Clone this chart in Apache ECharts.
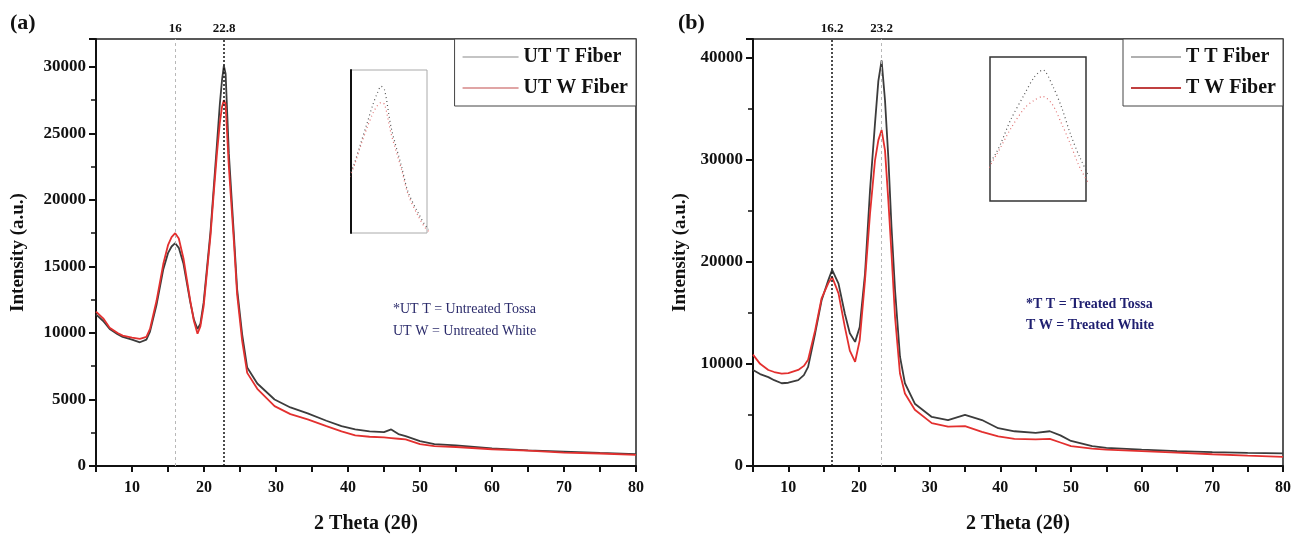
<!DOCTYPE html>
<html>
<head>
<meta charset="utf-8">
<script src="https://cdn.jsdelivr.net/npm/echarts@6/dist/echarts.min.js"></script>
<style>
html,body{margin:0;padding:0;background:#fff;}
#c{width:1296px;height:541px;}
</style>
</head>
<body>
<div id="c"></div>
<script>
// ---------- DATA ----------
// Panel (a): untreated fibers
const thetaA = [5, 6, 6.9, 8, 8.7, 10, 11.1, 12, 12.5, 13.4, 14.35, 15, 15.5, 16, 16.5, 17.15, 18.1, 18.6, 19.1, 19.5, 19.95, 20.4, 20.9, 21.35, 21.8, 22.2, 22.5, 22.76, 23, 23.45, 24.16, 24.6, 25.3, 26, 27.4, 29.8, 32, 34.4, 37, 39.1, 41, 43, 45, 46, 47, 48, 50, 52, 55, 60, 65, 70, 75, 80];
const utTFiber = [11400, 10900, 10300, 9900, 9700, 9500, 9300, 9500, 10100, 12100, 14800, 16000, 16500, 16750, 16400, 15200, 12300, 11000, 10300, 10700, 12300, 14800, 17600, 20900, 24200, 27200, 29000, 30100, 29500, 23500, 17300, 13300, 9900, 7400, 6200, 5000, 4400, 3950, 3400, 3000, 2750, 2600, 2550, 2750, 2400, 2250, 1870, 1650, 1550, 1330, 1180, 1080, 980, 890];
const utWFiber = [11600, 11100, 10400, 10000, 9800, 9650, 9550, 9700, 10300, 12400, 15200, 16600, 17200, 17500, 17100, 15600, 12400, 10900, 9950, 10500, 12000, 14500, 17300, 20500, 23500, 25800, 27000, 27500, 27200, 22500, 16800, 12900, 9400, 7000, 5800, 4500, 3900, 3500, 3000, 2600, 2300, 2200, 2150, 2100, 2050, 2000, 1650, 1500, 1430, 1260, 1150, 1010, 940, 840];
const peakLinesA = [16, 22.8];
const peakLabelsA = ['16', '22.8'];
const namesA = ['UT T Fiber', 'UT W Fiber'];
const notesA = ['*UT T = Untreated Tossa', 'UT W = Untreated White'];

// Panel (b): treated fibers
const thetaB = [5, 6, 7.17, 8, 9.06, 10, 11.4, 12.2, 12.8, 13.8, 14.7, 15.66, 16.2, 17.1, 18, 18.7, 19.45, 20.1, 20.85, 21.56, 22.26, 22.74, 23.2, 23.68, 24.15, 24.6, 25.1, 25.8, 26.5, 27.9, 30.3, 32.6, 35, 37.4, 39.7, 42, 45, 47, 48.5, 50, 53, 55, 60, 65, 70, 75, 80];
const tTFiber = [9400, 9000, 8700, 8400, 8100, 8150, 8400, 8900, 9700, 13000, 16200, 18200, 19200, 17850, 14900, 13000, 12150, 13600, 18800, 27000, 33500, 37700, 39700, 35800, 30200, 23400, 17200, 10700, 8100, 6100, 4800, 4500, 5000, 4500, 3700, 3400, 3250, 3400, 3000, 2450, 1950, 1780, 1600, 1450, 1350, 1280, 1230];
const tWFiber = [10900, 10000, 9400, 9200, 9050, 9100, 9400, 9800, 10400, 13300, 16400, 17900, 18500, 16900, 13600, 11300, 10200, 12300, 18200, 24700, 29900, 31900, 32900, 30900, 26000, 20800, 14600, 9050, 7100, 5500, 4200, 3850, 3900, 3350, 2900, 2650, 2600, 2650, 2300, 1950, 1700, 1600, 1450, 1300, 1150, 1020, 900];
const peakLinesB = [16.2, 23.2];
const peakLabelsB = ['16.2', '23.2'];
const namesB = ['T T Fiber', 'T W Fiber'];
const notesB = ['*T T = Treated Tossa', 'T W = Treated White'];

const xTitle = '2 Theta (2θ)';
const yTitle = 'Intensity (a.u.)';

// ---------- CHART ----------
const FONT = "'Liberation Serif','Times New Roman',serif";
const BLACK = '#3c3c3c';
const RED = '#e3302f';

const pairs = (xs, ys) => xs.map((x, i) => [x, ys[i]]);

function mainX(gridIndex) {
  return {
    type: 'value', gridIndex, min: 5, max: 80, interval: 5,
    name: xTitle, nameLocation: 'middle', nameGap: 48,
    nameTextStyle: {fontFamily: FONT, fontWeight: 'bold', fontSize: 20, color: '#111'},
    axisLine: {show: true, onZero: false, lineStyle: {color: '#111', width: 2}},
    axisTick: {show: true, length: 6, lineStyle: {color: '#111', width: 2}},
    axisLabel: {fontFamily: FONT, fontWeight: 'bold', fontSize: 16, color: '#111', margin: 14,
      formatter: v => (v % 10 === 0 ? String(v) : '')},
    splitLine: {show: false}
  };
}
function mainY(gridIndex, max, interval, gap) {
  return {
    type: 'value', gridIndex, min: 0, max, interval,
    name: yTitle, nameLocation: 'middle', nameGap: gap, nameRotate: 90,
    nameTextStyle: {fontFamily: FONT, fontWeight: 'bold', fontSize: 19, color: '#111'},
    axisLine: {show: true, lineStyle: {color: '#111', width: 2}},
    axisTick: {show: true, length: 7, lineStyle: {color: '#111', width: 2}},
    minorTick: {show: true, splitNumber: 2, length: 5, lineStyle: {color: '#111', width: 1.5}},
    axisLabel: {fontFamily: FONT, fontWeight: 'bold', fontSize: 17, color: '#111', margin: 10,
      showMaxLabel: false, formatter: v => String(v)},
    splitLine: {show: false}
  };
}
function insetAxes(gridIndex, xmin, xmax, ymin, ymax, leftLine) {
  return [
    {type: 'value', gridIndex, min: xmin, max: xmax, show: false},
    {type: 'value', gridIndex, min: ymin, max: ymax, show: !!leftLine,
      axisLine: {show: !!leftLine, lineStyle: {color: '#111', width: 2}},
      axisTick: {show: false}, axisLabel: {show: false}, splitLine: {show: false}}
  ];
}
function vlines(values, labels, styles) {
  return {
    silent: true, symbol: 'none', animation: false,
    data: values.map((v, i) => ({
      xAxis: v,
      lineStyle: styles[i],
      label: {show: true, position: 'end', formatter: labels[i], distance: 4,
        fontFamily: FONT, fontWeight: 'bold', fontSize: 13, color: '#111'}
    }))
  };
}
const lightDash = {color: '#b8b8b8', type: [3, 3], width: 1};
const darkDot = {color: '#111', type: [2, 2], width: 1.5};

const insetA = insetAxes(2, 20.7, 25.9, 6700, 32700, true);
const insetB = insetAxes(3, 20.5, 25.4, 6200, 43000, false);

const legendText = {fontFamily: FONT, fontWeight: 'bold', fontSize: 20, color: '#111'};

const option = {
  animation: false,
  backgroundColor: '#fff',
  grid: [
    {left: 96, top: 39, width: 540, height: 427, show: true, borderColor: '#222', borderWidth: 1.5},
    {left: 753, top: 39, width: 530, height: 427, show: true, borderColor: '#222', borderWidth: 1.5},
    {left: 351, top: 70, width: 76, height: 163, show: true, borderColor: '#aaa', borderWidth: 1},
    {left: 990, top: 57, width: 96, height: 144, show: true, borderColor: '#333', borderWidth: 1.5}
  ],
  xAxis: [mainX(0), mainX(1), insetA[0], insetB[0]],
  yAxis: [mainY(0, 32100, 5000, 68), mainY(1, 41800, 10000, 63), insetA[1], insetB[1]],
  legend: [
    {right: 660, top: 39, orient: 'vertical', icon: 'rect', itemWidth: 56, itemHeight: 2, itemGap: 11,
      padding: [8, 8, 8, 8], borderColor: '#444', borderWidth: 1, backgroundColor: '#fff',
      textStyle: legendText, selectedMode: false,
      data: [{name: namesA[0], itemStyle: {color: '#c4c4c4'}},
             {name: namesA[1], itemStyle: {color: '#e0a5a5'}}]},
    {right: 13, top: 39, orient: 'vertical', icon: 'rect', itemWidth: 50, itemHeight: 2, itemGap: 11,
      padding: [8, 7, 8, 8], borderColor: '#444', borderWidth: 1, backgroundColor: '#fff',
      textStyle: legendText, selectedMode: false,
      data: [{name: namesB[0], itemStyle: {color: '#b0b0b0'}},
             {name: namesB[1], itemStyle: {color: '#c04040'}}]}
  ],
  series: [
    {name: namesA[0], type: 'line', xAxisIndex: 0, yAxisIndex: 0, symbol: 'none',
      data: pairs(thetaA, utTFiber), lineStyle: {color: BLACK, width: 1.8}, itemStyle: {color: BLACK},
      markLine: vlines(peakLinesA, peakLabelsA, [lightDash, darkDot])},
    {name: namesA[1], type: 'line', xAxisIndex: 0, yAxisIndex: 0, symbol: 'none',
      data: pairs(thetaA, utWFiber), lineStyle: {color: RED, width: 1.8}, itemStyle: {color: RED}},
    {name: namesB[0], type: 'line', xAxisIndex: 1, yAxisIndex: 1, symbol: 'none',
      data: pairs(thetaB, tTFiber), lineStyle: {color: BLACK, width: 1.8}, itemStyle: {color: BLACK},
      markLine: vlines(peakLinesB, peakLabelsB, [darkDot, lightDash])},
    {name: namesB[1], type: 'line', xAxisIndex: 1, yAxisIndex: 1, symbol: 'none',
      data: pairs(thetaB, tWFiber), lineStyle: {color: RED, width: 1.8}, itemStyle: {color: RED}},
    // insets (zoom on the main peak)
    {name: 'insetA-T', type: 'line', xAxisIndex: 2, yAxisIndex: 2, symbol: 'none', smooth: 0.3,
      data: pairs(thetaA, utTFiber), lineStyle: {color: '#555', width: 1.2, type: [1, 3]}},
    {name: 'insetA-W', type: 'line', xAxisIndex: 2, yAxisIndex: 2, symbol: 'none', smooth: 0.3,
      data: pairs(thetaA, utWFiber), lineStyle: {color: '#e07070', width: 1.2, type: [1, 3]}},
    {name: 'insetB-T', type: 'line', xAxisIndex: 3, yAxisIndex: 3, symbol: 'none', smooth: 0.3,
      data: pairs(thetaB, tTFiber), lineStyle: {color: '#555', width: 1.2, type: [1, 3]}},
    {name: 'insetB-W', type: 'line', xAxisIndex: 3, yAxisIndex: 3, symbol: 'none', smooth: 0.3,
      data: pairs(thetaB, tWFiber), lineStyle: {color: '#e07070', width: 1.2, type: [1, 3]}}
  ],
  graphic: [
    {type: 'text', left: 10, top: 12, style: {text: '(a)', font: "bold 22px 'Liberation Serif', serif", fill: '#111'}},
    {type: 'text', left: 678, top: 12, style: {text: '(b)', font: "bold 22px 'Liberation Serif', serif", fill: '#111'}},
    {type: 'text', left: 393, top: 302, style: {text: notesA[0], font: "14px 'Liberation Serif', serif", fill: '#2b2b6b'}},
    {type: 'text', left: 393, top: 324, style: {text: notesA[1], font: "14px 'Liberation Serif', serif", fill: '#2b2b6b'}},
    {type: 'text', left: 1026, top: 297, style: {text: notesB[0], font: "bold 14px 'Liberation Serif', serif", fill: '#1f1f70'}},
    {type: 'text', left: 1026, top: 318, style: {text: notesB[1], font: "bold 14px 'Liberation Serif', serif", fill: '#1f1f70'}}
  ]
};

const chart = echarts.init(document.getElementById('c'), null, {renderer: 'canvas'});
chart.setOption(option);
</script>
</body>
</html>
